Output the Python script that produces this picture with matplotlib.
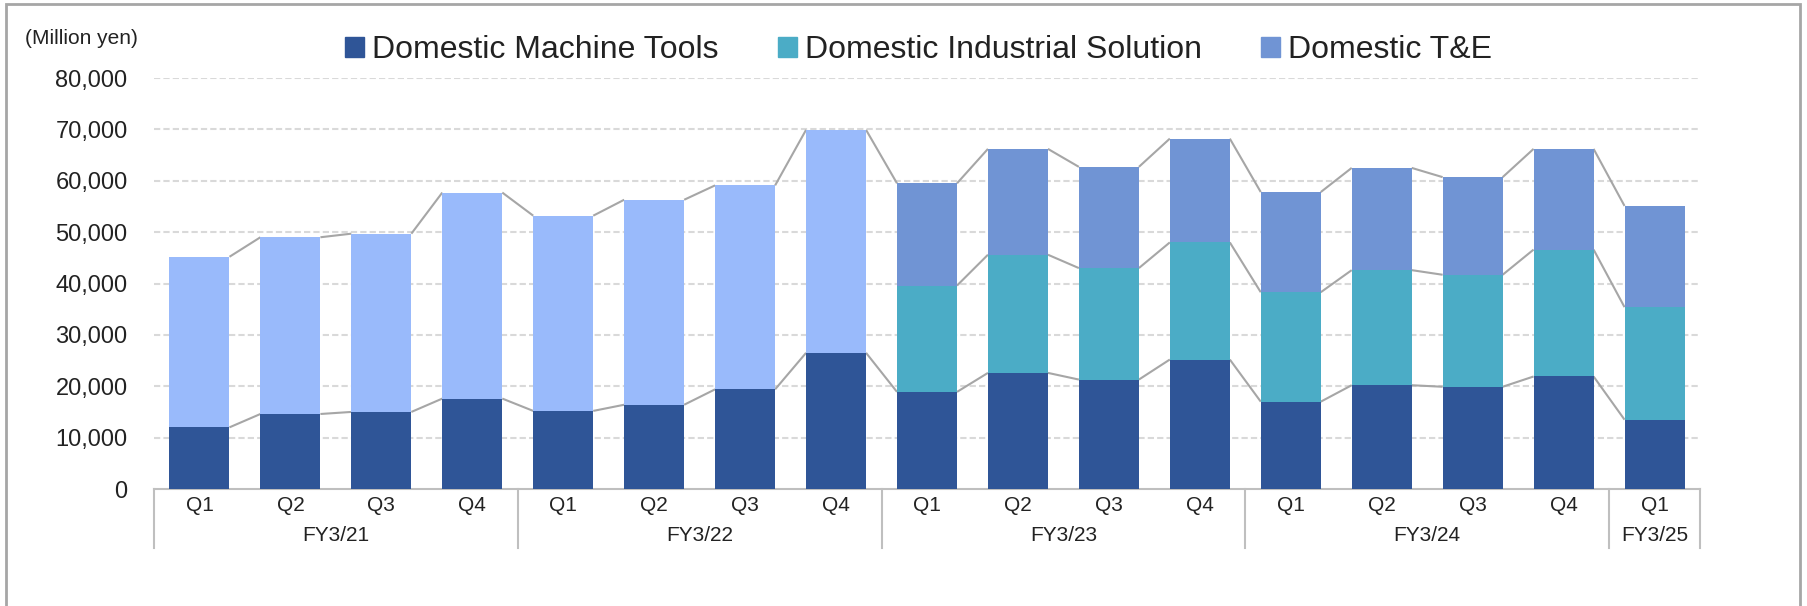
import matplotlib.pyplot as plt
import matplotlib.transforms as mtransforms
from matplotlib.patches import Rectangle, Patch
import numpy as np

plt.rcParams["font.family"] = ["Liberation Sans", "DejaVu Sans"]

quarters = ["Q1", "Q2", "Q3", "Q4"] * 4 + ["Q1"]
fiscal_years = ["FY3/21", "FY3/22", "FY3/23", "FY3/24", "FY3/25"]
fy_sizes = [4, 4, 4, 4, 1]

# Million yen
machine_tools = [12000, 14600, 15000, 17600, 15200, 16400, 19400, 26500,
                 18900, 22600, 21300, 25200, 17000, 20200, 19900, 21900, 13500]
# FY3/21-FY3/22: IS and T&E not split
is_te_combined = [33200, 34400, 34700, 40100, 38000, 39900, 39700, 43400]
# FY3/23 onward
industrial_solution = [20700, 23000, 21700, 22800, 21300, 22400, 21800, 24700, 21900]
t_and_e = [19900, 20600, 19700, 20200, 19500, 19900, 19000, 19600, 19700]

c_mt = "#2F5597"
c_is = "#4BACC6"
c_te = "#7094D4"
c_comb = "#99BAFB"
c_line = "#A6A6A6"
c_text = "#222222"

n = len(machine_tools)
n_old = len(is_te_combined)
x = np.arange(n)
x_old = x[:n_old]
x_new = x[n_old:]
w = 0.66

mt = np.array(machine_tools, dtype=float)
comb = np.array(is_te_combined, dtype=float)
ind = np.array(industrial_solution, dtype=float)
te = np.array(t_and_e, dtype=float)

fig = plt.figure(figsize=(18.08, 6.06), dpi=100)
ax = fig.add_axes([154 / 1808, 1 - 489 / 606, (1700 - 154) / 1808, 411 / 606])

ax.bar(x, mt, w, color=c_mt, zorder=3)
ax.bar(x_old, comb, w, bottom=mt[:n_old], color=c_comb, zorder=3)
ax.bar(x_new, ind, w, bottom=mt[n_old:], color=c_is, zorder=3)
ax.bar(x_new, te, w, bottom=mt[n_old:] + ind, color=c_te, zorder=3)

# connector lines between stacked levels
total = np.concatenate([mt[:n_old] + comb, mt[n_old:] + ind + te])
is_top = mt[n_old:] + ind


def connect(xs, levels):
    for i in range(len(xs) - 1):
        ax.plot([xs[i] + w / 2, xs[i + 1] - w / 2], [levels[i], levels[i + 1]],
                color=c_line, lw=1.5, zorder=2, solid_capstyle="butt")


connect(x, mt)
connect(x, total)
connect(x_new, is_top)

ax.set_xlim(-0.5, n - 0.5)
ax.set_ylim(0, 80000)
ax.set_yticks(np.arange(0, 80001, 10000))
ax.set_yticklabels([f"{v:,}" for v in range(0, 80001, 10000)], fontsize=17, color=c_text)
ax.tick_params(axis="y", length=0, pad=19)
ax.set_xticks([])
for s in ["left", "right", "top"]:
    ax.spines[s].set_visible(False)
ax.spines["bottom"].set_color("#BFBFBF")
ax.spines["bottom"].set_linewidth(1.5)

for v in range(10000, 80001, 10000):
    ax.axhline(v, color="#D9D9D9", lw=1.5, ls=(0, (3, 1.5)), zorder=1)

# two-level category axis
trans = mtransforms.blended_transform_factory(ax.transData, ax.transAxes)
for xi, q in zip(x, quarters):
    ax.text(xi, -0.039, q, transform=trans, ha="center", va="center",
            fontsize=15, color=c_text)
start = 0
bounds = [-0.5]
for fy, size in zip(fiscal_years, fy_sizes):
    ax.text(start + (size - 1) / 2, -0.112, fy, transform=trans, ha="center",
            va="center", fontsize=15, color=c_text)
    start += size
    bounds.append(start - 0.5)
for b in bounds:
    ax.plot([b, b], [0, -0.1436], transform=trans, color="#BFBFBF", lw=1.5,
            clip_on=False)

fig.text(25 / 1808, 1 - 38 / 606, "(Million yen)", fontsize=15, color=c_text,
         ha="left", va="center")

handles = [Patch(color=c_mt), Patch(color=c_is), Patch(color=c_te)]
labels = ["Domestic Machine Tools", "Domestic Industrial Solution", "Domestic T&E"]
fig.legend(handles, labels, loc="center", bbox_to_anchor=(0.508, 1 - 50 / 606),
           ncol=3, frameon=False, fontsize=23, handlelength=0.6, handleheight=0.6,
           handletextpad=0.25, columnspacing=1.85, labelcolor=c_text)

fig.patches.append(Rectangle((6 / 1808, -0.1), 1794 / 1808, 1.1 - 4 / 606,
                             transform=fig.transFigure, fill=False,
                             edgecolor="#A6A6A6", lw=2))

fig.savefig("out.png", dpi=100, facecolor="white")
